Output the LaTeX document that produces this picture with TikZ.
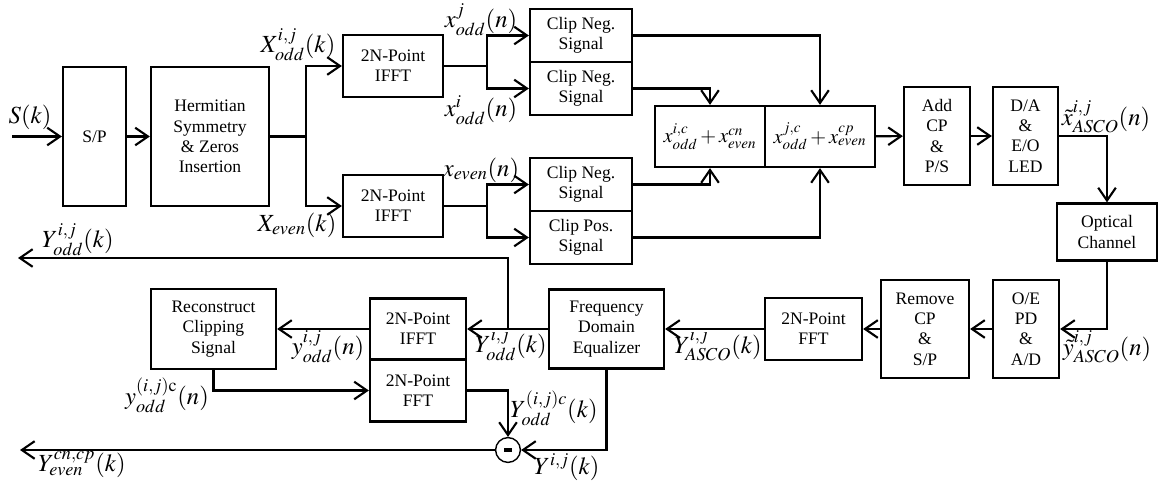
\documentclass[tikz,border=0pt]{standalone}
\usepackage{mathptmx}
\usepackage{fontspec}
\setmainfont{Liberation Serif}
\usetikzlibrary{arrows.meta,positioning}

\newcommand{\blkfont}{\fontsize{12.5}{14.4}\selectfont}
\newcommand{\lblfont}{\fontsize{17.5}{20}\selectfont}

\begin{document}
\begin{tikzpicture}[x=0.025cm, y=-0.025cm,
    blk/.style={draw, line width=1.6pt, align=center, inner sep=1pt, font=\blkfont},
    sumblk/.style={draw, line width=1.6pt, inner sep=1pt, minimum width=2.75cm, minimum height=1.525cm, font=\fontsize{14.5}{17}\selectfont},
    clipblk/.style={blk, minimum width=2.55cm, minimum height=1.325cm},
    sig/.style={font=\lblfont, inner sep=0pt},
    wire/.style={line width=1.5pt},
    flow/.style={wire, -{Straight Barb[length=3.2mm,width=4.4mm]}}]
    \useasboundingbox (0,0) rectangle (1158,486);

    % transmitter
    \node[blk, minimum width=1.575cm, minimum height=3.475cm] (sp) at (94.5,136.5) {S/P};
    \node[blk, minimum width=2.95cm, minimum height=3.475cm] (herm) at (210,136.5) {Hermitian\\Symmetry\\\& Zeros\\Insertion};
    \node[blk, minimum width=2.5cm, minimum height=1.55cm] (ifftA) at (393,66) {2N-Point\\IFFT};
    \node[blk, minimum width=2.5cm, minimum height=1.55cm] (ifftB) at (393,206) {2N-Point\\IFFT};
    \node[clipblk] (clipA) at (581,35.5) {Clip Neg.\\Signal};
    \node[clipblk] (clipB) at (581,88.5) {Clip Neg.\\Signal};
    \node[clipblk] (clipC) at (581,184.5) {Clip Neg.\\Signal};
    \node[clipblk] (clipD) at (581,237.5) {Clip Pos.\\Signal};
    \node[sumblk] (sumA) at (710,136.5) {$x^{i,c}_{odd}+x^{cn}_{even}$};
    \node[sumblk] (sumB) at (820,136.5) {$x^{j,c}_{odd}+x^{cp}_{even}$};
    \node[blk, minimum width=1.65cm, minimum height=2.45cm] (addcp) at (937,136) {Add\\CP\\\&\\P/S};
    \node[blk, minimum width=1.625cm, minimum height=2.45cm] (dac) at (1025.5,136) {D/A\\\&\\E/O\\LED};
    \node[blk, minimum width=2.5cm, minimum height=1.425cm] (optch) at (1107,232) {Optical\\Channel};

    % receiver
    \node[blk, minimum width=1.65cm, minimum height=2.45cm] (oe) at (1026,329) {O/E\\PD\\\&\\A/D};
    \node[blk, minimum width=2.2cm, minimum height=2.45cm] (rmcp) at (925,329) {Remove\\CP\\\&\\S/P};
    \node[blk, minimum width=2.425cm, minimum height=1.55cm] (fftR) at (813.5,329) {2N-Point\\FFT};
    \node[blk, minimum width=2.875cm, minimum height=1.975cm] (fde) at (606.5,329) {Frequency\\Domain\\Equalizer};
    \node[blk, minimum width=2.4cm, minimum height=1.525cm] (ifftC) at (418,329) {2N-Point\\IFFT};
    \node[blk, minimum width=2.4cm, minimum height=1.55cm] (fftC) at (418,390.5) {2N-Point\\FFT};
    \node[blk, minimum width=3.125cm, minimum height=2cm] (rec) at (213.5,329) {Reconstruct\\Clipping\\Signal};
    \node[draw, circle, line width=1pt, minimum size=0.62cm, inner sep=0pt] (mns) at (508,450) {\rule{0.2cm}{0.1cm}};

    \coordinate (sin) at (12,136.5);
    \coordinate (jA) at (306,136.5);
    \coordinate (jB) at (487,66);
    \coordinate (jC) at (487,206);
    \coordinate (tap) at (508,329);
    \coordinate (yout) at (18,258);
    \coordinate (eout) at (20,450);

    % connectors
    \draw[flow] (sin) -- (sp.west);
    \draw[flow] (sp) -- (herm);
    \draw[wire] (herm.east) -- (jA);
    \draw[flow] (jA) |- (ifftA.west);
    \draw[flow] (jA) |- (ifftB.west);
    \draw[wire] (ifftA.east) -- (jB);
    \draw[flow] (jB) |- (clipA.west);
    \draw[flow] (jB) |- (clipB.west);
    \draw[wire] (ifftB.east) -- (jC);
    \draw[flow] (jC) |- (clipC.west);
    \draw[flow] (jC) |- (clipD.west);
    \draw[flow] (clipA.east) -| (sumB.north);
    \draw[flow] (clipB.east) -| (sumA.north);
    \draw[flow] (clipC.east) -| (sumA.south);
    \draw[flow] (clipD.east) -| (sumB.south);
    \draw[flow] (sumB) -- (addcp);
    \draw[flow] (addcp) -- (dac);
    \draw[flow] (dac.east) -| (optch.north);
    \draw[flow] (optch.south) |- (oe.east);
    \draw[flow] (oe) -- (rmcp);
    \draw[flow] (rmcp) -- (fftR);
    \draw[flow] (fftR) -- (fde);
    \draw[flow] (fde) -- (ifftC);
    \draw[flow] (ifftC) -- (rec);
    \draw[flow] (tap) |- (yout);
    \draw[flow] (rec.south) |- (fftC.west);
    \draw[flow] (fftC.east) -| (mns.north);
    \draw[flow] (fde.south) |- (mns.east);
    \draw[flow] (mns.west) -- (eout);

    % signal labels
    \node[sig] (lS) at (30,117) {$S(k)$};
    \node[sig] (lXo) at (298,45) {$X^{i,j}_{odd}(k)$};
    \node[sig] (lXe) at (297,225) {$X_{even}(k)$};
    \node[sig] (lxj) at (481,20) {$x^{j}_{odd}(n)$};
    \node[sig] (lxi) at (481,110) {$x^{i}_{odd}(n)$};
    \node[sig] (lxe) at (481,170) {$x_{even}(n)$};
    \node[sig] (lxt) at (1106,117) {$\tilde{x}^{i,j}_{ASCO}(n)$};
    \node[sig] (lyt) at (1107,347) {$\tilde{y}^{i,j}_{ASCO}(n)$};
    \node[sig] (lYa) at (718,345) {$Y^{i,j}_{ASCO}(k)$};
    \node[sig] (lYo) at (511,345) {$Y^{i,j}_{odd}(k)$};
    \node[sig] (lYt) at (78,240) {$Y^{i,j}_{odd}(k)$};
    \node[sig] (lyo) at (328,347) {$y^{i,j}_{odd}(n)$};
    \node[sig] (lyc) at (167,395) {$y^{(i,j)\mathrm{c}}_{odd}(n)$};
    \node[sig] (lYc) at (554,408) {$Y^{(i,j)c}_{odd}(k)$};
    \node[sig] (lY) at (567,467) {$Y^{i,j}(k)$};
    \node[sig] (lYe) at (82,465) {$Y^{cn,cp}_{even}(k)$};
\end{tikzpicture}
\end{document}
